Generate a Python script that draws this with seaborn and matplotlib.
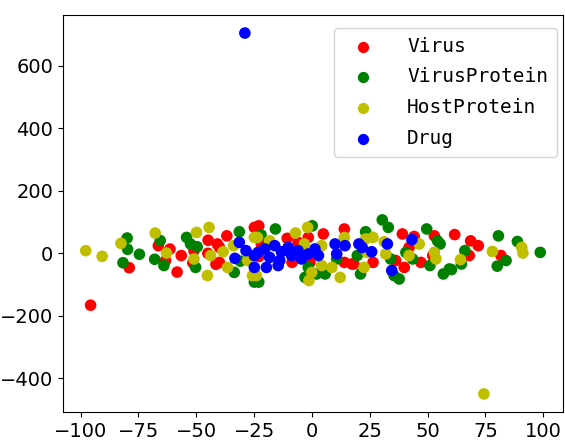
import matplotlib
matplotlib.use("Agg")
import matplotlib.pyplot as plt
import seaborn as sns
import pandas as pd

categories = ["Virus", "VirusProtein", "HostProtein", "Drug"]
colors = ["#ff0000", "#008000", "#bfbf00", "#0000ff"]

virus_x = [-95.7, -79, -66.4, -61.4, -63.3, -56.5, -58.3, -51, -51.5, -44.9, -40.9, -40, -45, -40, -41.5,
           -36.8, -24.9, -23, -21.9, -23, -10.7, -6, -1.6, 4.9, -8.6, -0.9, 14, 14, 17.3, 18.1, 26.4,
           36.2, 39.1, 44.2, 42, 47.1, 39.9, 52.9, 52.2, 61.7, 68.6, 71.9, 68, 81.7]
virus_y = [-166, -46, 24.5, 13.7, -23, -7, -60, 8.6, -30, 42, 30, 19, 0, -29, -35,
           56, 83, 88, 30, -10, 48, 35, 51, 62, -29, -29, 78, -29, -34, -34, -29,
           -23, 62, 54, 19, -29, -45, 56, -7, 60, 40, 24.5, -7, -7]

vprot_x = [-79.9, -79.7, -74.6, -81.7, -68, -65.6, -64, -54.2, -52.5, -49.6, -50.3, -33.6, -31.4, -31,
           -24.9, -22, -15.8, 0.1, -1.6, -3, 2, 5.7, 10.7, -23, 30.4, 33, 23.2, 19.6, 21, 34, 35.5,
           37.7, 40.6, 43.5, 49.6, 54.3, 55.4, 51, 56.8, 59.4, 66.1, 64.6, 60.3, 80.6, 83.9, 80.1,
           88.8, 98.7]
vprot_y = [49, 12.8, -3, -30, -19, 41, -39, 51, 30, 21, -45, -61, 69, -25,
           -92, 59, 78, 88, -45, -77, -66, -66, -18, -92, 107, 83, 69, -7, -66, -18, -71,
           -82, 3, -18, 78, 40, 30, -39, -66, -50, 8.6, -34, -52, 56, -23, -41,
           38, 3]

hprot_x = [-97.8, -90.7, -82.6, -67.8, -62.9, -49.9, -51, -44.5, -43.8, -38.4, -45.2, -36.5, -33.9,
           -27.8, -24.9, -25.7, -23.6, -18.3, -7.1, -3.3, -1.9, 4.2, 4.2, -0.1, -1.3, 8.6, 12.2,
           14, -24, 26.4, 23.2, 31.2, 31.9, 22.5, 23.9, 46.4, 42, 52.9, 53.6, 64.2, 78, 90.7,
           91.2, 74.3]
hprot_y = [8.6, -9.6, 32, 65, 1, 67, -18, 83, -7, 5, -71, -45, 24.5,
           -23, 51, -71, 51, 40, 65, 30, 83, 24.5, -39, -61, -87, -45, -77,
           51, -71, 51, 46, 37, -2, -45, 3, 30, -7, 3, -18, -20, 6, 19,
           1, -450]

drug_x = [-29, -31.4, -28.5, -33.3, -24.9, -24.9, -23.3, -20.4, -18.3, -16.1, -13.2, -13.9, -10.3,
          -8.8, -6, -4.5, -1.6, 1.3, 2.8, -19.7, -14.6, 10, 14.3, 10.7, 20.3, 21.7, 25.8, 32.6,
          34.5, 43.2]
drug_y = [705, 35, 8.6, -16, -7, -45, 3, 14, -13, 24.5, 5, -23, 19,
          -7, 8.6, -18, -2, 14, -7, -45, -39, 30, 24.5, -2, 30, 19, 5, 30,
          -55, 44]

xs = [virus_x, vprot_x, hprot_x, drug_x]
ys = [virus_y, vprot_y, hprot_y, drug_y]
frames = [pd.DataFrame({"x": x, "y": y, "type": c}) for x, y, c in zip(xs, ys, categories)]
df = pd.concat(frames, ignore_index=True)

fig = plt.figure(figsize=(5.65, 4.42), dpi=100)
ax = fig.add_axes([63 / 565, 30 / 442, 500 / 565, 397 / 442])
sns.scatterplot(data=df, x="x", y="y", hue="type", hue_order=categories,
                palette=colors, s=70, linewidth=0, alpha=1, ax=ax, legend=False)

for c, col in zip(categories, colors):
    ax.scatter([], [], color=col, s=50, label=c)

ax.set_xlabel("")
ax.set_ylabel("")
ax.set_xticks([-100, -75, -50, -25, 0, 25, 50, 75, 100])
ax.set_yticks([-400, -200, 0, 200, 400, 600])
ax.tick_params(labelsize=14)
for lab in ax.get_xticklabels() + ax.get_yticklabels():
    lab.set_family("DejaVu Sans")
ax.legend(loc="upper right", bbox_to_anchor=(557 / 565, 414 / 442),
          bbox_transform=fig.transFigure,
          prop={"family": "DejaVu Sans Mono", "size": 14},
          handletextpad=1.3, labelspacing=0.6, borderpad=0.45, handlelength=2.0,
          borderaxespad=0, frameon=True)

fig.savefig("out.png", dpi=100)
